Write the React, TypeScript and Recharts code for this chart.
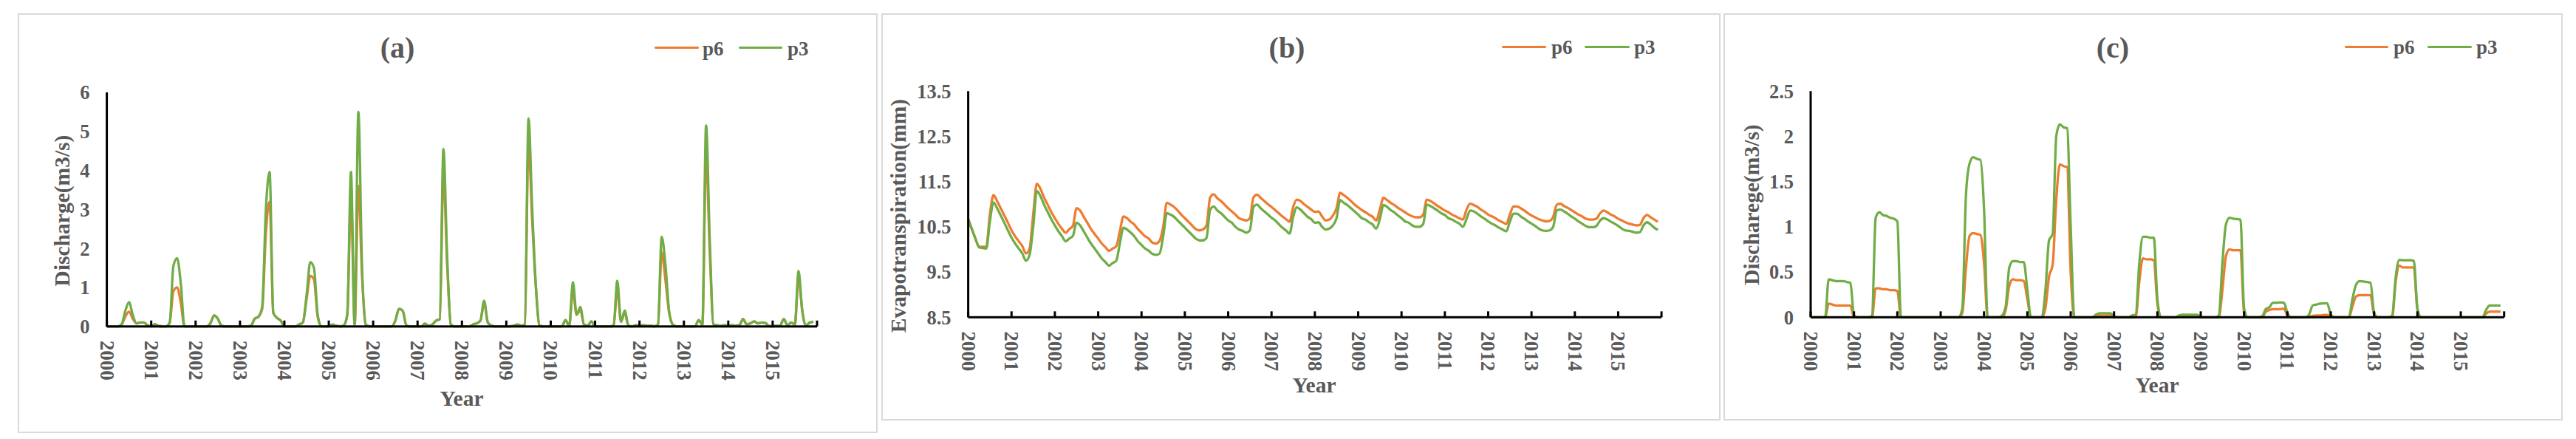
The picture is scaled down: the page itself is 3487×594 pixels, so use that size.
import React from 'react';
import { LineChart, Line, XAxis, YAxis } from 'recharts';

const FONT = "'Liberation Serif', 'Times New Roman', Times, serif";
const TEXT = '#595959';
const ORANGE = '#ED7D31';
const GREEN = '#70AD47';

// Categories: monthly steps, Jan 2000 .. Dec 2015
const yearLabels = ['2000','2001','2002','2003','2004','2005','2006','2007','2008','2009','2010','2011','2012','2013','2014','2015'];
const monthIndex = Array.from({ length: 192 }, (_, i) => i);
const xTicks = [...yearLabels.map((_, i) => i * 12), 192];

// Panel (a) Discharge(m3/s)
const aP6 = [
  0,0,0,0,0.05,0.25,0.38,0.2,0.08,0.1,0.1,0.03,
  0,0.06,0.01,0,0,0.1,0.9,1.0,0.6,0,0,0,
  0,0,0,0,0.08,0.28,0.2,0.02,0,0,0,0,
  0,0,0,0.02,0.2,0.25,0.45,2.4,3.2,0.35,0.22,0.15,
  0,0,0,0,0.05,0.1,0.7,1.3,1.2,0.25,0,0,
  0,0.05,0.02,0,0.02,0.3,3.3,0.05,3.6,1.3,0.05,0,
  0,0,0,0,0,0,0.15,0.45,0.4,0.02,0,0,
  0,0,0.07,0.02,0.05,0.15,0.18,3.9,1.6,0.05,0,0,
  0,0,0,0.05,0.08,0.15,0.6,0.1,0.02,0,0,0,
  0,0,0.02,0.05,0.02,0.05,4.7,2.7,1.0,0.02,0,0,
  0,0,0,0,0.16,0.02,0.9,0.3,0.42,0.05,0.02,0.13,
  0,0,0,0,0,0.02,0.95,0.12,0.35,0.02,0,0.03,
  0.02,0.03,0.02,0.02,0,0.05,1.9,1.2,0.35,0.05,0,0,
  0,0,0,0,0.16,0.05,4.4,1.9,0.05,0.03,0.02,0.03,
  0.02,0.03,0.02,0.03,0.19,0.05,0.08,0.13,0.08,0.1,0.09,0.01,
  0,0.02,0.02,0.19,0.03,0.1,0.05,1.25,0.4,0.02,0.1,0.12,
];
const aP3 = [
  0,0,0,0,0.05,0.4,0.62,0.3,0.08,0.1,0.1,0.03,
  0,0.06,0.01,0,0,0.1,1.55,1.75,1.1,0,0,0,
  0,0,0,0,0.08,0.28,0.2,0.02,0,0,0,0,
  0,0,0,0.02,0.2,0.25,0.5,3.0,3.96,0.35,0.22,0.15,
  0,0,0,0,0.05,0.1,0.8,1.65,1.5,0.3,0,0,
  0,0.05,0.02,0,0.02,0.3,3.96,0.05,5.5,1.5,0.05,0,
  0,0,0,0,0,0,0.15,0.45,0.4,0.02,0,0,
  0,0,0.07,0.02,0.05,0.15,0.18,4.55,1.8,0.05,0,0,
  0,0,0,0.05,0.08,0.15,0.66,0.1,0.02,0,0,0,
  0,0,0.02,0.05,0.02,0.05,5.33,3.0,1.0,0.02,0,0,
  0,0,0,0,0.16,0.02,1.14,0.3,0.5,0.05,0.02,0.13,
  0,0,0,0,0,0.02,1.17,0.12,0.41,0.02,0,0.03,
  0.02,0.03,0.02,0.02,0,0.05,2.3,1.6,0.4,0.05,0,0,
  0,0,0,0,0.16,0.05,5.15,2.2,0.05,0.03,0.02,0.03,
  0.02,0.03,0.02,0.03,0.19,0.05,0.08,0.13,0.08,0.1,0.09,0.01,
  0,0.02,0.02,0.19,0.03,0.1,0.05,1.42,0.4,0.02,0.1,0.12,
];

// Panel (b) Evapotranspiration(mm)
const bP6 = [
  10.67,10.45,10.24,10.06,10.06,10.06,10.77,11.20,11.07,10.91,10.75,10.59,
  10.42,10.29,10.18,10.07,9.91,10.02,10.77,11.45,11.34,11.15,10.99,10.83,
  10.69,10.56,10.45,10.37,10.45,10.52,10.91,10.86,10.72,10.59,10.45,10.34,
  10.24,10.13,10.05,9.97,10.02,10.07,10.40,10.73,10.69,10.61,10.55,10.45,
  10.37,10.29,10.24,10.15,10.13,10.19,10.50,11.03,10.99,10.94,10.86,10.77,
  10.69,10.61,10.53,10.45,10.42,10.44,10.53,11.15,11.22,11.13,11.07,10.99,
  10.91,10.84,10.77,10.69,10.66,10.64,10.69,11.15,11.21,11.14,11.07,11.00,
  10.94,10.87,10.80,10.73,10.67,10.61,10.94,11.10,11.07,11.00,10.94,10.88,
  10.83,10.84,10.73,10.64,10.66,10.75,10.91,11.25,11.20,11.14,11.07,10.99,
  10.93,10.87,10.82,10.77,10.72,10.64,10.88,11.14,11.09,11.03,10.98,10.92,
  10.87,10.82,10.77,10.73,10.71,10.71,10.77,11.10,11.07,11.02,10.96,10.91,
  10.86,10.82,10.77,10.73,10.69,10.66,10.88,11.01,10.98,10.94,10.88,10.83,
  10.77,10.73,10.69,10.64,10.60,10.56,10.77,10.95,10.95,10.91,10.86,10.80,
  10.75,10.71,10.67,10.64,10.62,10.63,10.72,10.99,11.01,10.96,10.92,10.87,
  10.82,10.77,10.73,10.68,10.66,10.66,10.68,10.80,10.86,10.82,10.77,10.73,
  10.68,10.64,10.60,10.57,10.55,10.53,10.54,10.69,10.76,10.71,10.66,10.61,
];
const bP3 = [
  10.67,10.45,10.24,10.05,10.03,10.02,10.61,11.04,10.91,10.75,10.59,10.42,
  10.26,10.13,10.02,9.91,9.75,9.88,10.50,11.29,11.18,10.99,10.83,10.67,
  10.53,10.40,10.29,10.18,10.24,10.30,10.59,10.53,10.40,10.26,10.13,10.02,
  9.91,9.80,9.72,9.64,9.70,9.75,10.13,10.48,10.44,10.37,10.29,10.18,
  10.10,10.02,9.97,9.90,9.88,9.91,10.29,10.80,10.77,10.72,10.64,10.56,
  10.48,10.40,10.32,10.24,10.20,10.20,10.26,10.88,10.95,10.86,10.80,10.72,
  10.64,10.59,10.50,10.44,10.41,10.37,10.42,10.94,10.99,10.91,10.84,10.77,
  10.70,10.64,10.56,10.48,10.42,10.35,10.72,10.93,10.88,10.80,10.72,10.67,
  10.59,10.60,10.50,10.44,10.46,10.53,10.69,11.09,11.03,10.98,10.91,10.84,
  10.77,10.69,10.66,10.60,10.55,10.46,10.67,10.98,10.94,10.87,10.82,10.75,
  10.69,10.62,10.59,10.53,10.50,10.50,10.56,10.99,10.96,10.91,10.86,10.80,
  10.76,10.69,10.66,10.61,10.57,10.50,10.67,10.86,10.84,10.79,10.73,10.68,
  10.62,10.57,10.53,10.48,10.44,10.40,10.61,10.79,10.79,10.73,10.68,10.62,
  10.57,10.52,10.46,10.42,10.41,10.42,10.50,10.86,10.88,10.84,10.79,10.73,
  10.68,10.62,10.57,10.52,10.49,10.49,10.52,10.64,10.69,10.66,10.61,10.57,
  10.52,10.46,10.42,10.41,10.39,10.37,10.38,10.53,10.60,10.55,10.48,10.43,
];

// Panel (c) Discharege(m3/s)
const cP6 = [
  0,0,0,0,0,0.15,0.14,0.13,0.13,0.13,0.13,0.13,
  0,0,0,0,0,0,0.32,0.32,0.31,0.31,0.30,0.30,
  0.29,0,0,0,0,0,0,0,0,0,0,0,
  0,0,0,0,0,0,0.05,0.55,0.9,0.93,0.92,0.91,
  0.6,0,0,0,0,0,0.08,0.35,0.42,0.41,0.41,0.40,
  0.2,0,0,0,0,0.1,0.45,0.58,1.3,1.69,1.67,1.66,
  0.5,0,0,0,0,0,0,0.01,0.02,0.02,0.02,0.02,
  0,0,0,0,0,0,0,0.4,0.65,0.64,0.64,0.63,
  0.15,0,0,0,0,0,0.01,0.016,0.016,0.016,0.016,0.016,
  0,0,0,0,0,0,0.3,0.68,0.75,0.74,0.74,0.74,
  0.05,0,0,0,0,0,0.06,0.08,0.09,0.09,0.09,0.095,
  0.02,0,0,0,0,0,0.005,0.015,0.02,0.02,0.025,0.025,
  0.01,0,0,0,0,0,0.12,0.23,0.245,0.245,0.245,0.245,
  0.03,0,0,0,0,0,0.4,0.57,0.55,0.55,0.55,0.55,
  0.08,0,0,0,0,0,0,0,0,0,0,0,
  0,0,0,0,0,0,0,0.04,0.063,0.063,0.063,0.063,
];
const cP3 = [
  0,0,0,0,0,0.42,0.41,0.40,0.40,0.40,0.39,0.38,
  0.02,0,0,0,0,0.02,1.10,1.16,1.13,1.12,1.10,1.09,
  1.06,0,0,0,0,0,0,0,0,0,0,0,
  0,0,0,0,0,0,0.1,1.35,1.70,1.77,1.75,1.74,
  1.2,0,0,0,0,0.02,0.12,0.55,0.62,0.62,0.61,0.61,
  0.3,0,0,0,0,0.3,0.85,0.92,2.0,2.13,2.10,2.09,
  1.0,0,0,0,0,0,0,0.03,0.045,0.045,0.045,0.045,
  0.01,0,0,0,0,0.02,0.03,0.6,0.89,0.89,0.88,0.88,
  0.2,0,0,0,0,0,0.02,0.027,0.027,0.027,0.027,0.027,
  0.005,0,0,0,0,0.02,0.6,1.03,1.10,1.09,1.085,1.08,
  0.1,0,0,0,0,0.01,0.09,0.11,0.16,0.16,0.165,0.16,
  0.05,0,0,0,0,0,0.03,0.13,0.14,0.15,0.155,0.155,
  0.03,0,0,0,0,0,0.2,0.36,0.40,0.395,0.39,0.38,
  0.05,0,0,0,0,0.02,0.45,0.635,0.63,0.63,0.63,0.625,
  0.1,0,0,0,0,0,0,0,0,0,0,0,
  0,0,0,0,0,0,0,0.08,0.13,0.13,0.13,0.13,
];

const aYTicks = [0, 1, 2, 3, 4, 5, 6];
const bYTicks = [8.5, 9.5, 10.5, 11.5, 12.5, 13.5];
const cYTicks = [0, 0.5, 1, 1.5, 2, 2.5];

const seriesNames = ['p6', 'p3'];

const makeData = (p6: number[], p3: number[]) => monthIndex.map((m) => ({ m, p6: p6[m], p3: p3[m] }));

const XTick = (props: any) => {
  const { x, y, payload } = props;
  const label = yearLabels[payload.value / 12];
  const ty = y + 19;
  return (
    <g>
      <line x1={x} x2={x} y1={y} y2={y - 8} stroke="#000" strokeWidth={3} />
      {label && (
        <text
          x={x}
          y={ty}
          transform={`rotate(90 ${x} ${ty})`}
          textAnchor="start"
          dominantBaseline="central"
          fontFamily={FONT}
          fontSize={27}
          fontWeight="bold"
          fill={TEXT}
        >
          {label}
        </text>
      )}
    </g>
  );
};

type PanelCfg = {
  frame: { l: number; t: number; r: number; b: number };
  plot: { l: number; t: number; r: number; b: number };
  data: any[];
  yDomain: [number, number];
  yTicks: number[];
  title: string;
  titlePos: [number, number];
  yTitle: string;
  yTitlePos: [number, number];
  xTitlePos: [number, number];
  legendY: number;
  legend: { x1: number; x2: number; tx: number }[];
};

const panels: PanelCfg[] = [
  {
    frame: { l: 24, t: 18, r: 1188, b: 586 },
    plot: { l: 144.6, t: 125, r: 1106, b: 441.7 },
    data: makeData(aP6, aP3),
    yDomain: [0, 6],
    yTicks: aYTicks,
    title: '(a)',
    titlePos: [538, 64.5],
    yTitle: 'Discharge(m3/s)',
    yTitlePos: [85, 285],
    xTitlePos: [625, 540],
    legendY: 64.5,
    legend: [
      { x1: 886, x2: 945.5, tx: 951 },
      { x1: 1000, x2: 1059, tx: 1066 },
    ],
  },
  {
    frame: { l: 1193.4, t: 18, r: 2329, b: 569 },
    plot: { l: 1311, t: 123.2, r: 2249.5, b: 429.3 },
    data: makeData(bP6, bP3),
    yDomain: [8.5, 13.5],
    yTicks: bYTicks,
    title: '(b)',
    titlePos: [1742, 65],
    yTitle: 'Evapotranspiration(mm)',
    yTitlePos: [1217, 292],
    xTitlePos: [1779, 522],
    legendY: 63,
    legend: [
      { x1: 2033, x2: 2093, tx: 2100 },
      { x1: 2145, x2: 2206, tx: 2212 },
    ],
  },
  {
    frame: { l: 2333, t: 18, r: 3469, b: 569 },
    plot: { l: 2451, t: 123.2, r: 3389.7, b: 429.3 },
    data: makeData(cP6, cP3),
    yDomain: [0, 2.5],
    yTicks: cYTicks,
    title: '(c)',
    titlePos: [2860, 65],
    yTitle: 'Discharege(m3/s)',
    yTitlePos: [2372, 277],
    xTitlePos: [2920, 522],
    legendY: 63,
    legend: [
      { x1: 3174, x2: 3233, tx: 3240 },
      { x1: 3286, x2: 3345.5, tx: 3352 },
    ],
  },
];

const centered = (x: number, y: number, extra: React.CSSProperties = {}): React.CSSProperties => ({
  position: 'absolute',
  left: x,
  top: y,
  transform: 'translate(-50%, -50%)',
  whiteSpace: 'nowrap',
  lineHeight: 1,
  fontFamily: FONT,
  fontWeight: 'bold',
  color: TEXT,
  ...extra,
});

const Panel = ({ cfg }: { cfg: PanelCfg }) => {
  const { frame, plot } = cfg;
  const w = frame.r - frame.l;
  const h = frame.b - frame.t;
  const colors = [ORANGE, GREEN];
  return (
    <>
      <div
        style={{
          position: 'absolute',
          left: frame.l,
          top: frame.t,
          width: w,
          height: h,
          border: '2px solid #D9D9D9',
          boxSizing: 'border-box',
          background: '#fff',
        }}
      />
      <div style={{ position: 'absolute', left: frame.l, top: frame.t }}>
        <LineChart
          width={w}
          height={h}
          data={cfg.data}
          margin={{ top: plot.t - frame.t, right: frame.r - plot.r, bottom: 0, left: 0 }}
        >
          <XAxis
            type="number"
            dataKey="m"
            domain={[0, 192]}
            ticks={xTicks}
            interval={0}
            tickSize={0}
            tickMargin={0}
            tickLine={false}
            axisLine={{ stroke: '#000', strokeWidth: 3 }}
            tick={<XTick />}
            height={frame.b - plot.b}
          />
          <YAxis
            type="number"
            domain={cfg.yDomain}
            ticks={cfg.yTicks}
            interval={0}
            width={plot.l - frame.l}
            tickSize={0}
            tickMargin={23}
            tickLine={false}
            axisLine={{ stroke: '#000', strokeWidth: 3 }}
            tick={{ fill: TEXT, fontSize: 26.5, fontWeight: 'bold', fontFamily: FONT }}
          />
          <Line type="monotone" dataKey="p6" name="p6" stroke={ORANGE} strokeWidth={3.3} dot={false} activeDot={false} isAnimationActive={false} />
          <Line type="monotone" dataKey="p3" name="p3" stroke={GREEN} strokeWidth={3.3} dot={false} activeDot={false} isAnimationActive={false} />
        </LineChart>
      </div>
      <div style={centered(cfg.titlePos[0], cfg.titlePos[1], { fontSize: 40 })}>{cfg.title}</div>
      <div style={centered(cfg.yTitlePos[0], cfg.yTitlePos[1], { fontSize: 29.5, transform: 'translate(-50%, -50%) rotate(-90deg)' })}>
        {cfg.yTitle}
      </div>
      <div style={centered(cfg.xTitlePos[0], cfg.xTitlePos[1], { fontSize: 29.5 })}>Year</div>
      {cfg.legend.map((it, i) => (
        <React.Fragment key={seriesNames[i]}>
          <div
            style={{
              position: 'absolute',
              left: it.x1,
              top: cfg.legendY - 1.5,
              width: it.x2 - it.x1,
              height: 3.3,
              borderRadius: 2,
              background: colors[i],
            }}
          />
          <div
            style={{
              position: 'absolute',
              left: it.tx,
              top: cfg.legendY + 1,
              transform: 'translateY(-50%)',
              whiteSpace: 'nowrap',
              lineHeight: 1,
              fontFamily: FONT,
              fontWeight: 'bold',
              fontSize: 27,
              color: TEXT,
            }}
          >
            {seriesNames[i]}
          </div>
        </React.Fragment>
      ))}
    </>
  );
};

export default function App() {
  return (
    <div
      style={{
        position: 'absolute',
        left: 0,
        top: 0,
        width: 3487,
        height: 594,
        background: '#fff',
        overflow: 'hidden',
      }}
    >
      {panels.map((p) => (
        <Panel key={p.title} cfg={p} />
      ))}
    </div>
  );
}
